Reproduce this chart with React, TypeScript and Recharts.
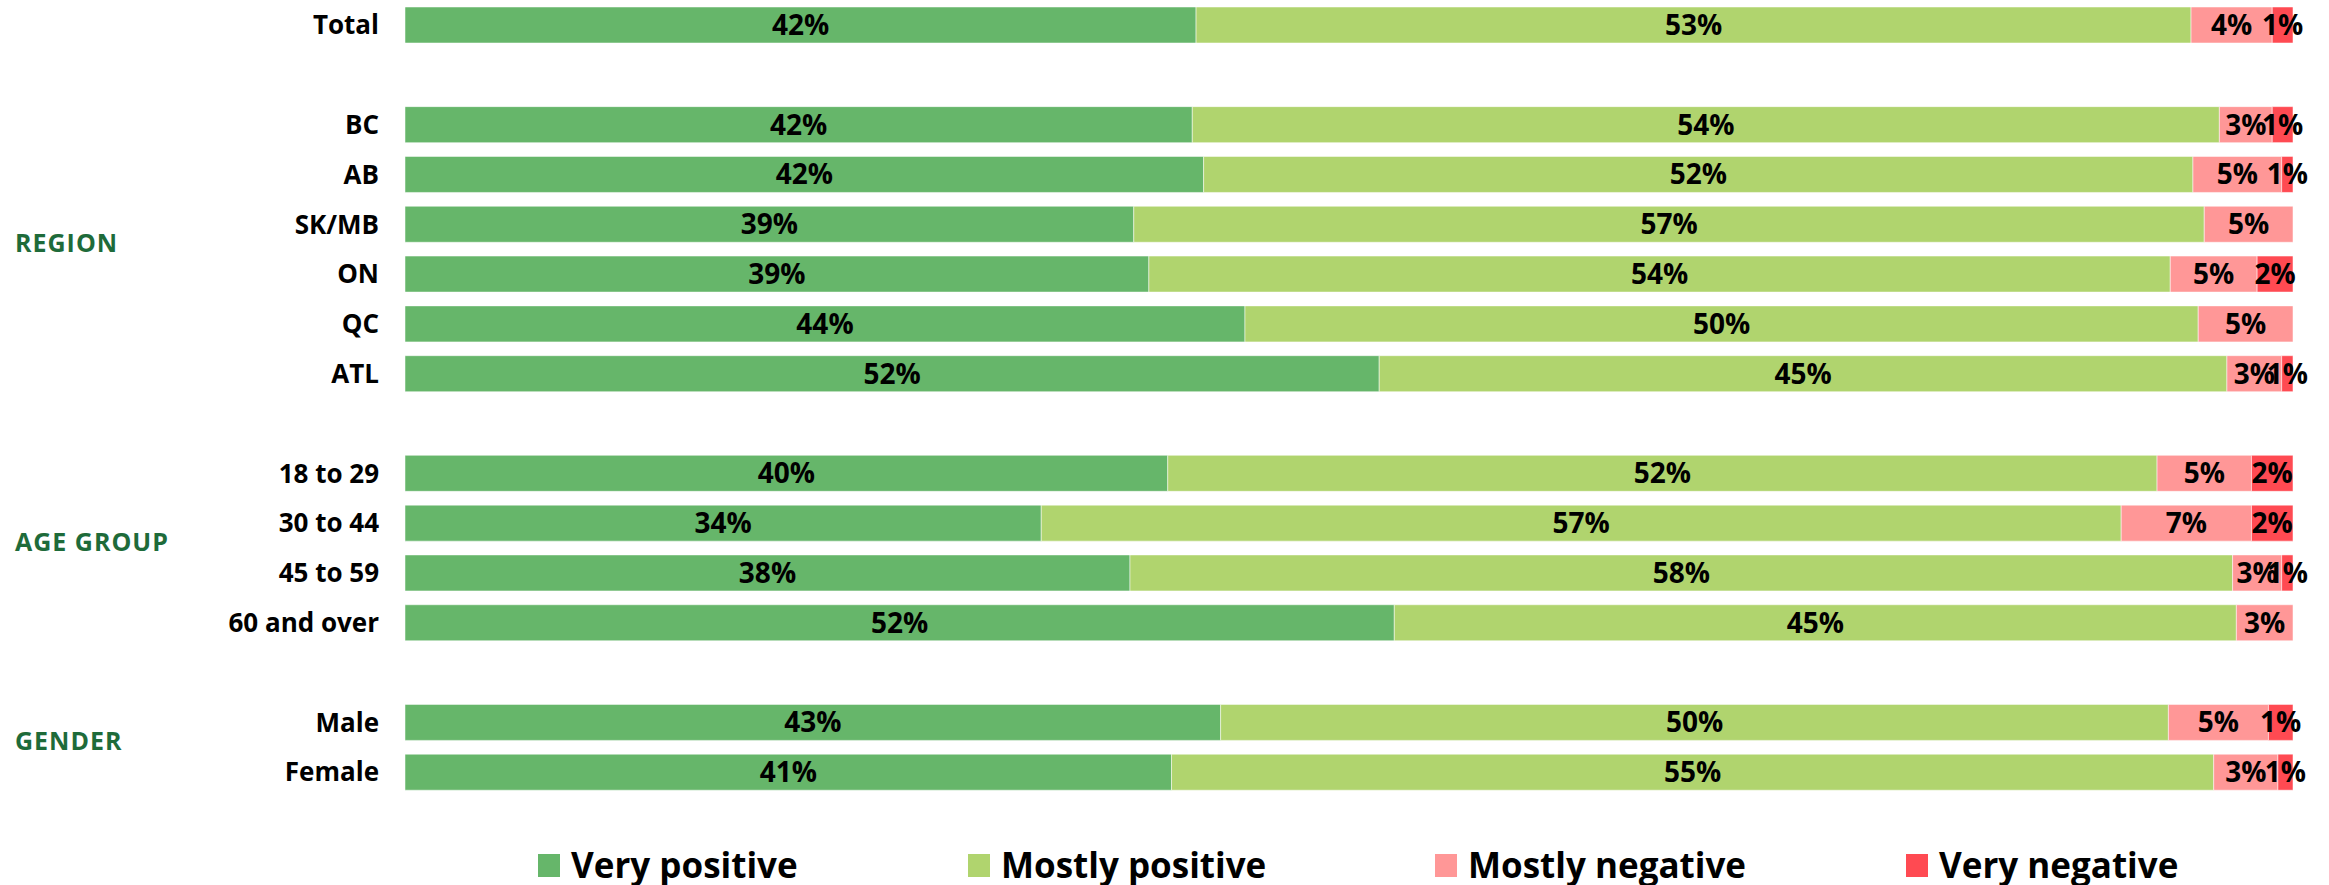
import { BarChart, Bar, XAxis, YAxis, LabelList, Legend } from "recharts"

// rows top to bottom; gap-* rows are the empty spacers between groups
const categories = [
  "Total", "gap-1",
  "BC", "AB", "SK/MB", "ON", "QC", "ATL", "gap-2",
  "18 to 29", "30 to 44", "45 to 59", "60 and over", "gap-3",
  "Male", "Female",
]
const veryPositive = [41.9, null, 41.7, 42.3, 38.6, 39.4, 44.49, 51.6, null, 40.4, 33.7, 38.4, 52.4, null, 43.2, 40.6]
const mostlyPositive = [52.7, null, 54.4, 52.4, 56.7, 54.1, 50.49, 44.9, null, 52.4, 57.2, 58.4, 44.6, null, 50.2, 55.2]
const mostlyNegative = [4.3, null, 2.8, 4.7, 4.7, 4.6, 5.02, 2.9, null, 5.0, 6.9, 2.6, 3.0, null, 5.3, 3.4]
const veryNegative = [1.1, null, 1.1, 0.6, 0, 1.9, 0, 0.6, null, 2.2, 2.2, 0.6, 0, null, 1.3, 0.8]

const groupLabels = [
  { at: "SK/MB", text: "REGION" },
  { at: "30 to 44", text: "AGE GROUP" },
  { at: "Male", text: "GENDER" },
]

const series = [
  { key: "veryPositive", name: "Very positive", color: "#66b66a" },
  { key: "mostlyPositive", name: "Mostly positive", color: "#b0d46e" },
  { key: "mostlyNegative", name: "Mostly negative", color: "#ff9797" },
  { key: "veryNegative", name: "Very negative", color: "#ff4a52" },
]

const data = categories.map((name, i) => ({
  name,
  veryPositive: veryPositive[i],
  mostlyPositive: mostlyPositive[i],
  mostlyNegative: mostlyNegative[i],
  veryNegative: veryNegative[i],
}))

const FONT = "'Open Sans', sans-serif"

const pct = (v: any) => (v ? `${Math.round(Number(v))}%` : "")

function CategoryTick({ x, y, payload }: any) {
  const name: string = payload?.value ?? ""
  if (name.startsWith("gap")) return <g />
  const group = groupLabels.find((g) => g.at === name)
  return (
    <g>
      <text x={x} y={y} dy="0.36em" textAnchor="end" fontFamily={FONT} fontWeight={700} fontSize={26} fill="#000">
        {name}
      </text>
      {group && (
        <text x={15} y={y + 19} dy="0.36em" textAnchor="start" fontFamily={FONT} fontWeight={700} fontSize={25} letterSpacing={1} fill="#1e6b3a">
          {group.text}
        </text>
      )}
    </g>
  )
}

// legend items sit at fixed spots under the plot
const legendWidths = [430, 467, 471, 420]

function LegendContent({ payload }: any) {
  const items = [...(payload ?? [])].sort(
    (a: any, b: any) =>
      series.findIndex((s) => s.name === a.value) - series.findIndex((s) => s.name === b.value)
  )
  return (
    <div style={{ display: "flex", alignItems: "center", height: 36 }}>
      {items.map((p: any, i: number) => (
        <div key={p.value} style={{ display: "flex", alignItems: "center", width: legendWidths[i] }}>
          <span style={{ width: 22, height: 23, background: p.color, display: "inline-block" }} />
          <span style={{ marginLeft: 11, fontFamily: FONT, fontWeight: 700, fontSize: 35, color: "#000", lineHeight: "36px" }}>
            {p.value}
          </span>
        </div>
      ))}
    </div>
  )
}

export default function App() {
  return (
    <div style={{ position: "absolute", left: 0, top: 0, width: 2329, height: 885, background: "#fff" }}>
      <BarChart
        width={2329}
        height={885}
        data={data}
        layout="vertical"
        barSize={36}
        margin={{ top: 0, right: 36, bottom: 52, left: 0 }}
      >
        <XAxis type="number" domain={[0, 100]} hide />
        <YAxis
          type="category"
          dataKey="name"
          width={405}
          interval={0}
          axisLine={false}
          tickLine={false}
          tickSize={0}
          tickMargin={26}
          tick={<CategoryTick />}
        />
        <Legend
          content={<LegendContent />}
          wrapperStyle={{ left: 538, top: 847, width: 1800 }}
        />
        {series.map((s) => (
          <Bar
            key={s.key}
            dataKey={s.key}
            name={s.name}
            stackId="a"
            fill={s.color}
            stroke="#ffffff"
            strokeOpacity={0.5}
            strokeWidth={1}
            isAnimationActive={false}
          >
            <LabelList
              dataKey={s.key}
              position="center"
              formatter={pct}
              fill="#000"
              fontFamily={FONT}
              fontWeight={700}
              fontSize={28}
            />
          </Bar>
        ))}
      </BarChart>
    </div>
  )
}
